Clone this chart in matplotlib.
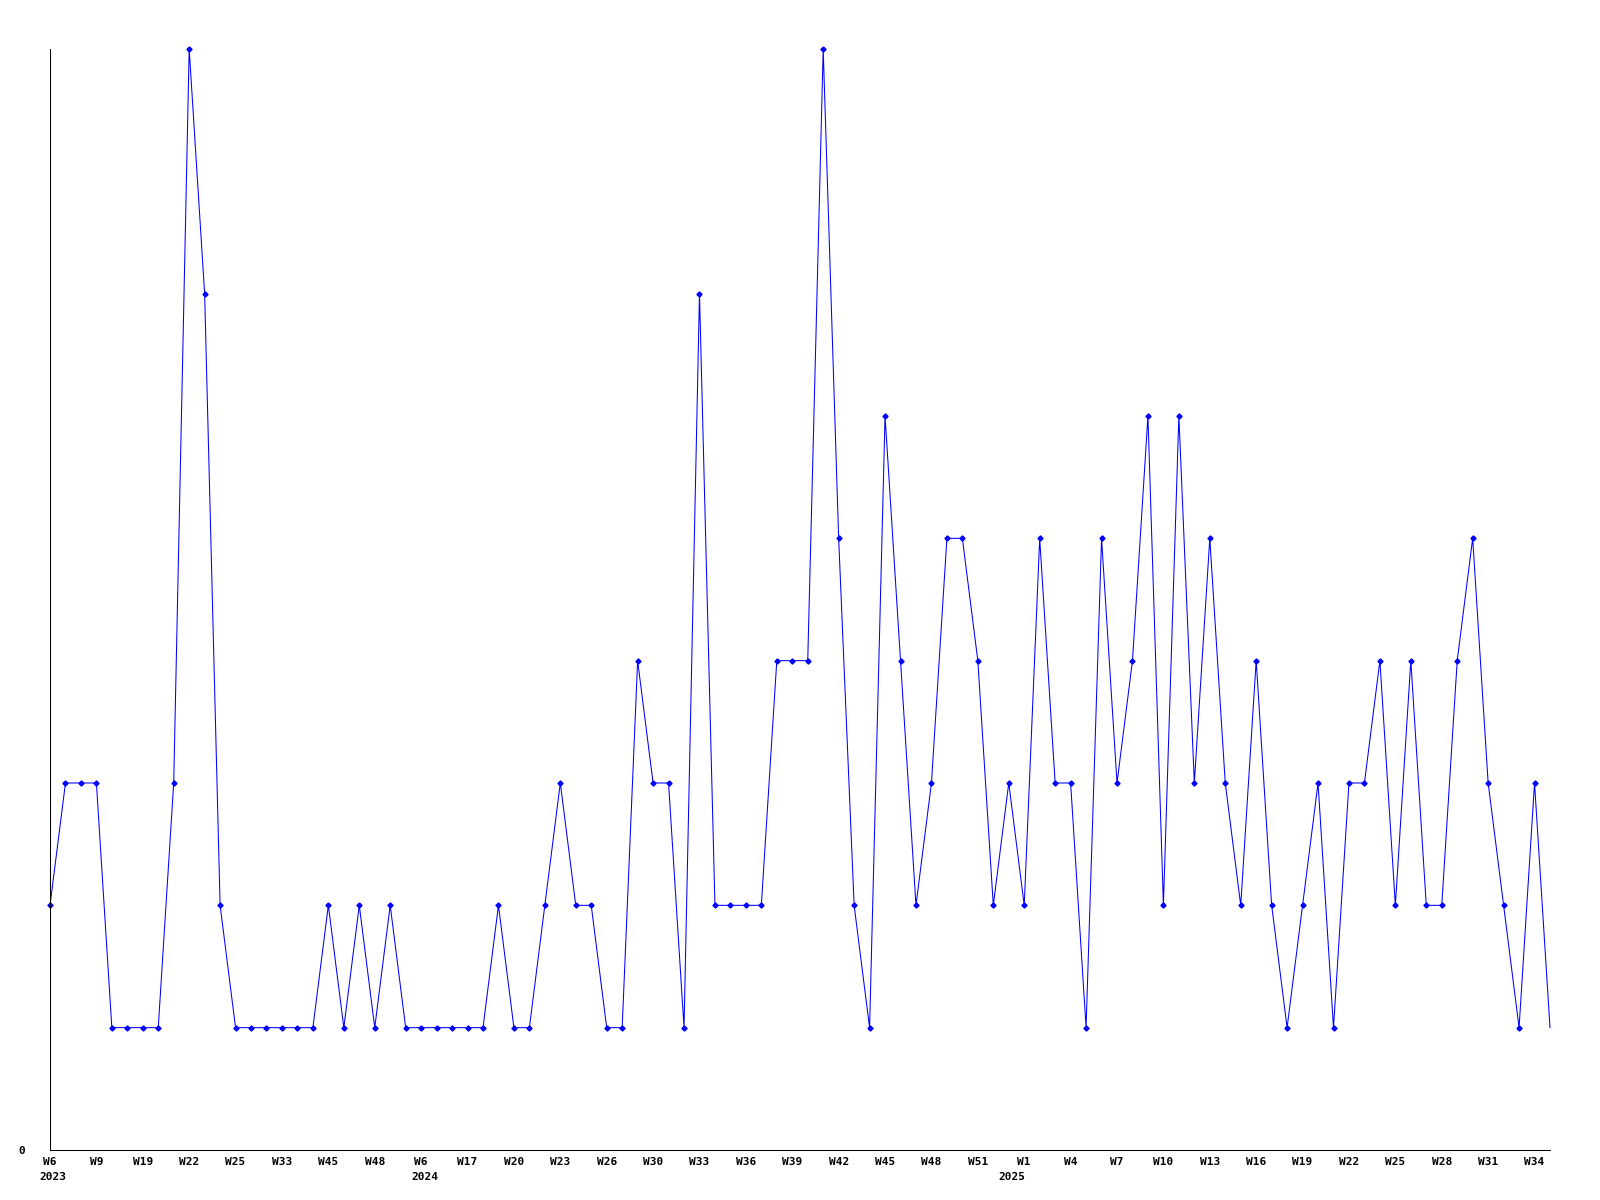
#!/usr/bin/env python3

import matplotlib
matplotlib.use("Agg")
import matplotlib.pyplot as plt
import matplotlib.transforms as mtransforms


# weekly counts, one point per week that has data
counts = [
    2, 3, 3, 3, 1, 1, 1, 1, 3, 9,
    7, 2, 1, 1, 1, 1, 1, 1, 2, 1,
    2, 1, 2, 1, 1, 1, 1, 1, 1, 2,
    1, 1, 2, 3, 2, 2, 1, 1, 4, 3,
    3, 1, 7, 2, 2, 2, 2, 4, 4, 4,
    9, 5, 2, 1, 6, 4, 2, 3, 5, 5,
    4, 2, 3, 2, 5, 3, 3, 1, 5, 3,
    4, 6, 2, 6, 3, 5, 3, 2, 4, 2,
    1, 2, 3, 1, 3, 3, 4, 2, 4, 2,
    2, 4, 5, 3, 2, 1, 3, 1,
]

# every third point gets a label
tick_labels = [
    "W6", "W9", "W19", "W22", "W25", "W33", "W45", "W48", "W6", "W17",
    "W20", "W23", "W26", "W30", "W33", "W36", "W39", "W42", "W45", "W48",
    "W51", "W1", "W4", "W7", "W10", "W13", "W16", "W19", "W22", "W25",
    "W28", "W31", "W34",
]

# year markers: (point index, year, small x nudge in index units)
year_marks = [(0, "2023", 0.2), (24, "2024", 0.24), (63, "2025", -0.8)]

FONT = {"family": "DejaVu Sans Mono", "weight": "bold", "size": 8}


def main():
    fig = plt.figure(figsize=(16, 12), dpi=100)
    ax = fig.add_axes([0.03125, 0.04167, 0.9375, 0.9175])

    x = list(range(len(counts)))
    ax.plot(
        x,
        counts,
        color="#0000ff",
        linewidth=0.75,
        marker="D",
        markersize=2.6,
        markevery=list(range(len(counts) - 1)),
        clip_on=False,
    )

    ax.set_xlim(0, len(counts) - 1)
    ax.set_ylim(0, max(counts))

    ax.set_xticks(x[::3])
    ax.set_xticklabels(tick_labels, fontdict=FONT)
    ax.set_yticks([0])
    ax.set_yticklabels(["0"], fontdict=FONT)
    ax.tick_params(axis="x", length=0, pad=5)
    ax.tick_params(axis="y", length=0, pad=18)

    for side in ["top", "right"]:
        ax.spines[side].set_visible(False)
    for side in ["left", "bottom"]:
        ax.spines[side].set_linewidth(0.75)
        ax.spines[side].set_color("black")

    trans = mtransforms.blended_transform_factory(ax.transData, ax.transAxes)
    offset = mtransforms.ScaledTranslation(0, -27 / 100, fig.dpi_scale_trans)
    for idx, year, nudge in year_marks:
        ax.text(
            idx + nudge, 0, year,
            transform=trans + offset,
            ha="center", va="center",
            **{k: v for k, v in [("family", FONT["family"]),
                                 ("weight", FONT["weight"]),
                                 ("size", FONT["size"])]},
        )

    fig.savefig("out.png", dpi=100, facecolor="white")
    plt.close(fig)


if __name__ == "__main__":
    main()
